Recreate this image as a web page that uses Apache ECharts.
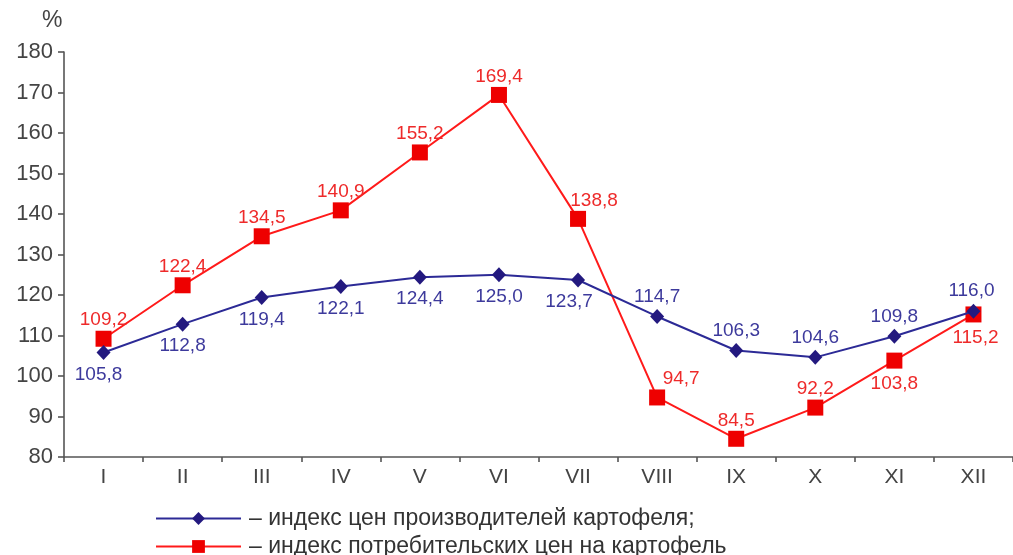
<!DOCTYPE html>
<html>
<head>
<meta charset="utf-8">
<script src="https://cdn.jsdelivr.net/npm/echarts@6/dist/echarts.min.js"></script>
<style>html,body{margin:0;padding:0;background:#fff}#c{width:1013px;height:555px}</style>
</head>
<body>
<div id="c"></div>
<script>
const categories = ['I','II','III','IV','V','VI','VII','VIII','IX','X','XI','XII'];
const producerIndex = [105.8,112.8,119.4,122.1,124.4,125.0,123.7,114.7,106.3,104.6,109.8,116.0];
const consumerIndex = [109.2,122.4,134.5,140.9,155.2,169.4,138.8,94.7,84.5,92.2,103.8,115.2];
const seriesNames = ['– индекс цен производителей картофеля;','– индекс потребительских цен на картофель'];
const yTicks = [80,90,100,110,120,130,140,150,160,170,180];

// label placement (style, not data)
const producerLabelPos = ['bottom','bottom','bottom','bottom','bottom','bottom','bottom','top','top','top','top','top'];
const producerLabelOff = [[-5,0],[0,0],[0,0],[0,0],[0,0],[0,0],[-9,0],[0,0],[0,0],[0,0],[0,0],[-2,0]];
const consumerLabelPos = ['top','top','top','top','top','top','top','top','top','top','bottom','bottom'];
const consumerLabelOff = [[0,0],[0,0],[0,0],[0,0],[0,0],[0,0],[16,0],[24,0],[0,0],[0,0],[0,0],[2,0]];

const fmt = v => v.toFixed(1).replace('.', ',');
const FONT = 'Liberation Sans, Arial, sans-serif';

const chart = echarts.init(document.getElementById('c'));
const legendBase = {
  orient: 'horizontal', left: 150, itemWidth: 85, itemHeight: 16, itemGap: 10,
  textStyle: { fontSize: 23, color: '#333', fontFamily: FONT, padding: [0,0,0,3] }
};
chart.setOption({
  animation: false,
  backgroundColor: '#fff',
  textStyle: { fontFamily: FONT },
  grid: { left: 64, top: 52, width: 955, height: 405, containLabel: false },
  graphic: [{
    type: 'text', left: 42, top: 9,
    style: { text: '%', font: '23px "Liberation Sans", Arial, sans-serif', fill: '#444' }
  }],
  legend: [
    Object.assign({}, legendBase, { top: 502, data: [seriesNames[0]] }),
    Object.assign({}, legendBase, { top: 530, data: [seriesNames[1]] })
  ],
  xAxis: {
    type: 'category', data: categories, boundaryGap: true,
    axisLine: { lineStyle: { color: '#555', width: 1.6 } },
    axisTick: { show: true, length: 5, alignWithLabel: false, lineStyle: { color: '#555', width: 1.6 } },
    axisLabel: { color: '#444', fontSize: 21, margin: 10 }
  },
  yAxis: {
    type: 'value', min: yTicks[0], max: yTicks[yTicks.length-1], interval: 10,
    splitLine: { show: false },
    axisLine: { show: true, lineStyle: { color: '#555', width: 1.6 } },
    axisTick: { show: true, length: 6, lineStyle: { color: '#555', width: 1.6 } },
    axisLabel: { color: '#444', fontSize: 22, margin: 11 }
  },
  series: [
    {
      name: seriesNames[0], type: 'line', z: 3,
      data: producerIndex.map((v,i) => ({ value: v, label: { position: producerLabelPos[i], offset: producerLabelOff[i], distance: producerLabelPos[i] === 'top' ? 3 : 5 } })),
      symbol: 'diamond', symbolSize: [14,15],
      itemStyle: { color: '#23197f' },
      lineStyle: { color: '#2c2a96', width: 2 },
      label: { show: true, color: '#3d3a9c', fontSize: 19, formatter: p => fmt(p.value) }
    },
    {
      name: seriesNames[1], type: 'line', z: 2,
      data: consumerIndex.map((v,i) => ({ value: v, label: { position: consumerLabelPos[i], offset: consumerLabelOff[i], distance: consumerLabelPos[i] === 'top' ? 1 : 6 } })),
      symbol: 'rect', symbolSize: 16,
      itemStyle: { color: '#ee0000' },
      lineStyle: { color: '#ff1a1a', width: 2 },
      label: { show: true, color: '#ee2a2a', fontSize: 19, formatter: p => fmt(p.value) }
    }
  ]
});
</script>
</body>
</html>
